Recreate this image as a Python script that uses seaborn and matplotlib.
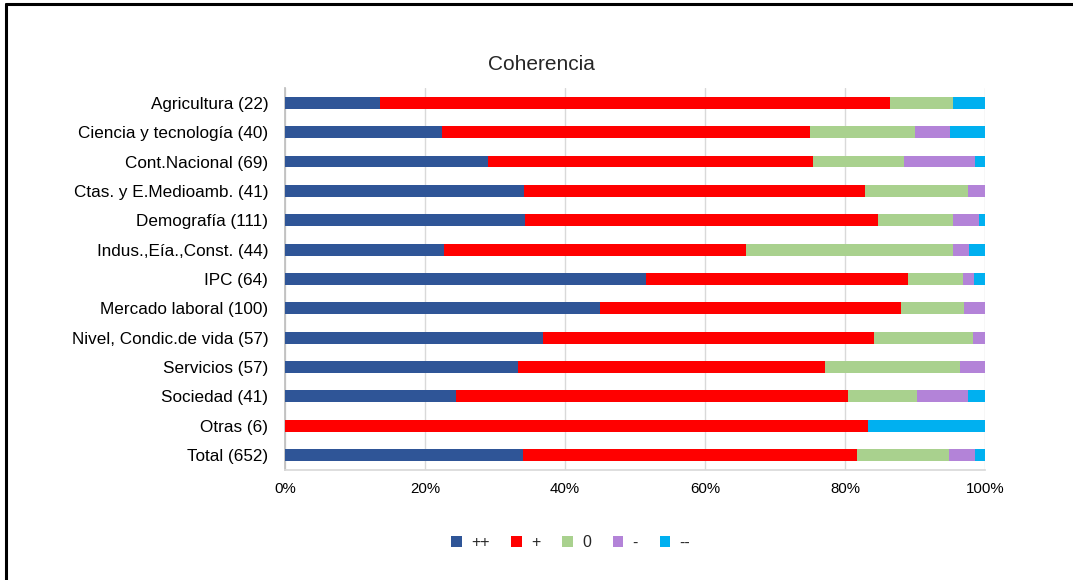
import numpy as np
import pandas as pd
import matplotlib
matplotlib.use('Agg')
import matplotlib.pyplot as plt
from matplotlib.patches import Patch
from matplotlib.lines import Line2D
from matplotlib.ticker import PercentFormatter
import seaborn as sns

categories = ['Agricultura (22)', 'Ciencia y tecnología (40)', 'Cont.Nacional (69)',
              'Ctas. y E.Medioamb. (41)', 'Demografía (111)', 'Indus.,Eía.,Const. (44)',
              'IPC (64)', 'Mercado laboral (100)', 'Nivel, Condic.de vida (57)',
              'Servicios (57)', 'Sociedad (41)', 'Otras (6)', 'Total (652)']

# counts per answer
muy_pos = [3, 9, 20, 14, 38, 10, 33, 45, 21, 19, 10, 0, 222]
pos = [16, 21, 32, 20, 56, 19, 24, 43, 27, 25, 23, 5, 311]
neutro = [2, 6, 9, 6, 12, 13, 5, 9, 8, 11, 4, 0, 85]
neg = [0, 2, 7, 1, 4, 1, 1, 3, 1, 2, 3, 0, 25]
muy_neg = [1, 2, 1, 0, 1, 1, 1, 0, 0, 0, 1, 1, 9]

series_names = ['++', '+', '0', '-', '--']
colors = ['#2F5597', '#FF0000', '#A9D18E', '#B383D8', '#00B0F0']

df = pd.DataFrame({'cat': categories, '++': muy_pos, '+': pos, '0': neutro,
                   '-': neg, '--': muy_neg})
tot = df[series_names].sum(axis=1)
pct = df[series_names].div(tot, axis=0) * 100
cum = pct.cumsum(axis=1)

sns.set_theme(style='white')
plt.rcParams['font.family'] = ['Liberation Sans', 'DejaVu Sans']

fig = plt.figure(figsize=(10.73, 5.80), dpi=100)
ax = fig.add_axes([0.2656, 0.1902, 0.6524, 0.6576])

# draw from the right-most cumulative end back to the left
for name, col in reversed(list(zip(series_names, colors))):
    sns.barplot(x=cum[name].values, y=df['cat'], color=col, orient='h',
                width=0.4, ax=ax, saturation=1, linewidth=0, zorder=3)

ax.set_xlim(0, 100)
ax.set_ylim(len(categories) - 0.5, -0.5)
ax.xaxis.set_major_locator(plt.MultipleLocator(20))
ax.xaxis.set_major_formatter(PercentFormatter(decimals=0))
ax.grid(axis='x', color='#D9D9D9', linewidth=1, zorder=0)
ax.set_axisbelow(True)
ax.set_xlabel('')
ax.set_ylabel('')
for s in ['top', 'right']:
    ax.spines[s].set_visible(False)
ax.spines['left'].set_color('#BFBFBF')
ax.spines['bottom'].set_color('#D9D9D9')
ax.tick_params(axis='x', length=0, pad=9, labelsize=10.8, colors='#000000')
ax.tick_params(axis='y', length=0, pad=12, labelsize=12.3, colors='#000000')

fig.text(0.505, 0.888, 'Coherencia', ha='center', va='center', fontsize=15)

handles = [Patch(facecolor=c, edgecolor='none') for c in colors]
fig.legend(handles, series_names, loc='center', bbox_to_anchor=(0.532, 0.064),
           ncol=5, frameon=False, fontsize=11.5, handlelength=0.65, handleheight=0.65,
           handletextpad=0.6, columnspacing=1.35)

# chart border (top and left edges visible)
fig.add_artist(Line2D([6 / 1073, 1], [1 - 3.5 / 580, 1 - 3.5 / 580],
                      transform=fig.transFigure, color='black', linewidth=2.2))
fig.add_artist(Line2D([6 / 1073, 6 / 1073], [0, 1 - 3.5 / 580],
                      transform=fig.transFigure, color='black', linewidth=2.2))

fig.savefig('out.png', dpi=100, facecolor='white')
